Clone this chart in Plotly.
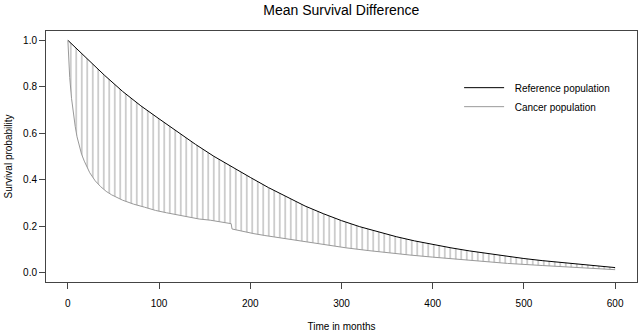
import plotly.graph_objects as go

# Reference (general) population survival
ref_months = [0, 20, 40, 60, 80, 100, 120, 140, 160, 180, 200, 220, 240, 260, 280,
              300, 320, 340, 360, 380, 400, 420, 440, 460, 480, 500, 520, 540, 560, 580, 600]
ref_surv = [1.000, 0.924, 0.850, 0.780, 0.718, 0.662, 0.606, 0.552, 0.501, 0.454, 0.410,
            0.366, 0.325, 0.287, 0.254, 0.224, 0.198, 0.175, 0.155, 0.137, 0.121, 0.107,
            0.094, 0.082, 0.071, 0.061, 0.052, 0.044, 0.036, 0.029, 0.022]

# Cancer population survival
can_months = [0, 1, 2, 4, 6, 8, 10, 12, 15, 18, 24, 30, 36, 42, 48, 60, 72, 84, 96, 108,
              120, 132, 144, 156, 168, 179, 180, 192, 204, 216, 240, 258, 280, 305, 330,
              351, 375, 400, 437, 482, 520, 546, 575, 600]
can_surv = [1.000, 0.900, 0.840, 0.750, 0.680, 0.630, 0.585, 0.550, 0.510, 0.480, 0.430,
            0.395, 0.370, 0.350, 0.335, 0.312, 0.295, 0.282, 0.268, 0.258, 0.248, 0.238,
            0.231, 0.226, 0.219, 0.211, 0.188, 0.177, 0.168, 0.160, 0.145, 0.136, 0.121,
            0.107, 0.095, 0.085, 0.076, 0.067, 0.054, 0.040, 0.031, 0.026, 0.018, 0.013]

x_ticks = [0, 100, 200, 300, 400, 500, 600]
y_ticks = [0.0, 0.2, 0.4, 0.6, 0.8, 1.0]
y_tick_text = ["0.0", "0.2", "0.4", "0.6", "0.8", "1.0"]

FONT = "Liberation Sans, Arial, Helvetica, sans-serif"
GAP = "\u00a0\u00a0"

fig = go.Figure()
fig.add_trace(go.Scatter(
    x=ref_months, y=ref_surv, mode="lines", name=GAP + "Reference population",
    line=dict(color="#000000", width=1),
))
# hatched area between the two curves
fig.add_trace(go.Scatter(
    x=can_months, y=can_surv, mode="lines", showlegend=False, hoverinfo="skip",
    line=dict(color="rgba(0,0,0,0)", width=0),
    fill="tonexty", fillcolor="rgba(0,0,0,0)",
    fillpattern=dict(shape="|", size=5.5, solidity=0.2, fgcolor="#aaaaaa",
                     bgcolor="rgba(0,0,0,0)", fillmode="replace"),
))
fig.add_trace(go.Scatter(
    x=can_months, y=can_surv, mode="lines", name=GAP + "Cancer population",
    line=dict(color="#999999", width=1),
))

axis_common = dict(
    showgrid=False, zeroline=False, showline=True, mirror=True,
    linecolor="#444444", linewidth=1, ticks="outside", ticklen=6,
    tickcolor="#444444", tickwidth=1,
    tickfont=dict(family=FONT, size=10, color="#000000"),
)

fig.update_layout(
    width=638, height=332,
    margin=dict(l=46, r=1, t=31, b=50),
    paper_bgcolor="white", plot_bgcolor="white",
    title=dict(text="Mean Survival Difference", x=0.535, xanchor="center",
               y=0.97, yanchor="middle",
               font=dict(family=FONT, size=14, color="#000000")),
    xaxis=dict(range=[-24, 624], tickvals=x_ticks, ticklabelstandoff=6,
               title=dict(text="Time in months", standoff=14,
                          font=dict(family=FONT, size=10, color="#000000")),
               **axis_common),
    yaxis=dict(range=[-0.04, 1.04], tickvals=y_ticks, ticktext=y_tick_text,
               title=dict(text="Survival probability", standoff=8,
                          font=dict(family=FONT, size=10, color="#000000")),
               **axis_common),
    showlegend=True,
    legend=dict(x=0.699, y=0.832, xanchor="left", yanchor="top",
                traceorder="normal",
                bgcolor="rgba(0,0,0,0)", borderwidth=0, itemwidth=40,
                font=dict(family=FONT, size=10, color="#000000")),
)

fig.write_html("out.html")
